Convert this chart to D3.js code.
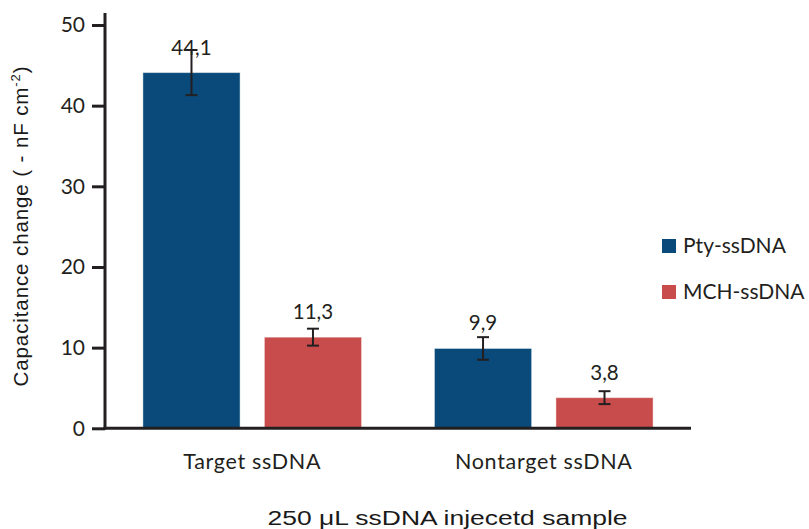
<!DOCTYPE html>
<html>
<head>
<meta charset="utf-8">
<script src="https://cdn.jsdelivr.net/npm/d3@7/dist/d3.min.js"></script>
<style>
  html, body { margin: 0; padding: 0; background: #fff; }
  svg { display: block; }
</style>
</head>
<body>
<svg id="chart" width="809" height="529"></svg>
<script>
// Capacitance change per sample type and surface chemistry
const categories = ["Target ssDNA", "Nontarget ssDNA"];
const seriesNames = ["Pty-ssDNA", "MCH-ssDNA"];
const ptyValues = [44.1, 9.9];
const mchValues = [11.3, 3.8];
const ptyErrors = [2.8, 1.4];
const mchErrors = [1.05, 0.8];
const yTicks = [0, 10, 20, 30, 40, 50];
const valueLabels = [["44,1", "9,9"], ["11,3", "3,8"]];

const colors = { "Pty-ssDNA": "#094a7a", "MCH-ssDNA": "#c84c4c" };
const axisColor = "#231f20";
const textColor = "#231f20";
const labelFont = "Lato, 'Open Sans', sans-serif";
const titleFont = "'Liberation Sans', Arial, sans-serif";

const svg = d3.select("#chart");

const rows = [];
categories.forEach((c, i) => {
  rows.push({ cat: c, series: "Pty-ssDNA", value: ptyValues[i], err: ptyErrors[i], label: valueLabels[0][i] });
  rows.push({ cat: c, series: "MCH-ssDNA", value: mchValues[i], err: mchErrors[i], label: valueLabels[1][i] });
});

const x0 = d3.scaleBand().domain(categories).range([105, 691]).paddingInner(0.25).paddingOuter(0.13);
const x1 = d3.scaleBand().domain(seriesNames).range([0, x0.bandwidth()]).paddingInner(0.2).paddingOuter(0);
const y = d3.scaleLinear().domain([0, 50]).range([428.3, 25]);

// bars
svg.append("g").selectAll("rect").data(rows).join("rect")
  .attr("x", d => x0(d.cat) + x1(d.series))
  .attr("y", d => y(d.value))
  .attr("width", x1.bandwidth())
  .attr("height", d => y(0) - y(d.value))
  .attr("fill", d => colors[d.series])
  .attr("stroke", "#ffffff").attr("stroke-opacity", 0.45).attr("stroke-width", 1);

// error bars
const eb = svg.append("g").attr("stroke", axisColor).attr("stroke-width", 2).attr("fill", "none");
rows.forEach(d => {
  const cx = x0(d.cat) + x1(d.series) + x1.bandwidth() / 2;
  const top = y(d.value + d.err), bot = y(d.value - d.err);
  eb.append("line").attr("x1", cx).attr("x2", cx).attr("y1", top).attr("y2", bot);
  eb.append("line").attr("x1", cx - 6).attr("x2", cx + 6).attr("y1", top).attr("y2", top);
  eb.append("line").attr("x1", cx - 6).attr("x2", cx + 6).attr("y1", bot).attr("y2", bot);
});

// value labels
svg.append("g").selectAll("text").data(rows).join("text")
  .attr("x", d => x0(d.cat) + x1(d.series) + x1.bandwidth() / 2)
  .attr("y", d => y(d.value) - 18)
  .attr("text-anchor", "middle")
  .attr("font-family", labelFont).attr("font-size", 20.5)
  .attr("fill", textColor)
  .text(d => d.label);

// y axis
const yAxis = d3.axisLeft(y).tickValues(yTicks).tickSize(13).tickPadding(7).tickFormat(d3.format("d"));
const gy = svg.append("g").attr("transform", "translate(105,0)").call(yAxis);
gy.select(".domain").remove();
gy.selectAll(".tick line").attr("stroke", axisColor).attr("stroke-width", 3);
gy.selectAll(".tick text").attr("font-family", labelFont).attr("font-size", 21).attr("fill", textColor);
svg.append("line").attr("x1", 105).attr("x2", 105).attr("y1", 13).attr("y2", y(0) + 1.5)
  .attr("stroke", axisColor).attr("stroke-width", 3);

// x axis baseline and category labels
svg.append("line").attr("x1", 103.5).attr("x2", x0.range()[1]).attr("y1", y(0)).attr("y2", y(0))
  .attr("stroke", axisColor).attr("stroke-width", 3);
svg.append("g").selectAll("text").data(categories).join("text")
  .attr("x", d => x0(d) + x0.bandwidth() / 2)
  .attr("y", 469)
  .attr("text-anchor", "middle")
  .attr("font-family", labelFont).attr("font-size", 21.5)
  .attr("letter-spacing", 0.7).attr("fill", textColor)
  .text(d => d);

// axis titles
svg.append("text")
  .attr("x", 447.5).attr("y", 524.5)
  .attr("text-anchor", "middle")
  .attr("font-family", titleFont).attr("font-size", 20).attr("fill", "#1a1a1a")
  .attr("textLength", 360).attr("lengthAdjust", "spacingAndGlyphs")
  .text("250 μL ssDNA injecetd sample");

const yt = svg.append("text")
  .attr("transform", "translate(27.5,226) rotate(-90)")
  .attr("text-anchor", "middle")
  .attr("font-family", titleFont).attr("font-size", 20.5).attr("fill", "#1a1a1a")
  .attr("letter-spacing", 0.9);
yt.append("tspan").text("Capacitance change ( - nF cm");
yt.append("tspan").attr("font-size", 13).attr("dy", "-0.55em").text("-2");
yt.append("tspan").attr("dy", "0.35em").text(")");

// legend
const lg = svg.append("g");
seriesNames.forEach((s, i) => {
  const ly = 246 + i * 46;
  lg.append("rect").attr("x", 662).attr("y", ly - 7).attr("width", 14).attr("height", 14).attr("fill", colors[s]);
  lg.append("text").attr("x", 683).attr("y", ly).attr("dy", "0.35em")
    .attr("font-family", labelFont).attr("font-size", 21).attr("fill", textColor).text(s);
});
</script>
</body>
</html>
